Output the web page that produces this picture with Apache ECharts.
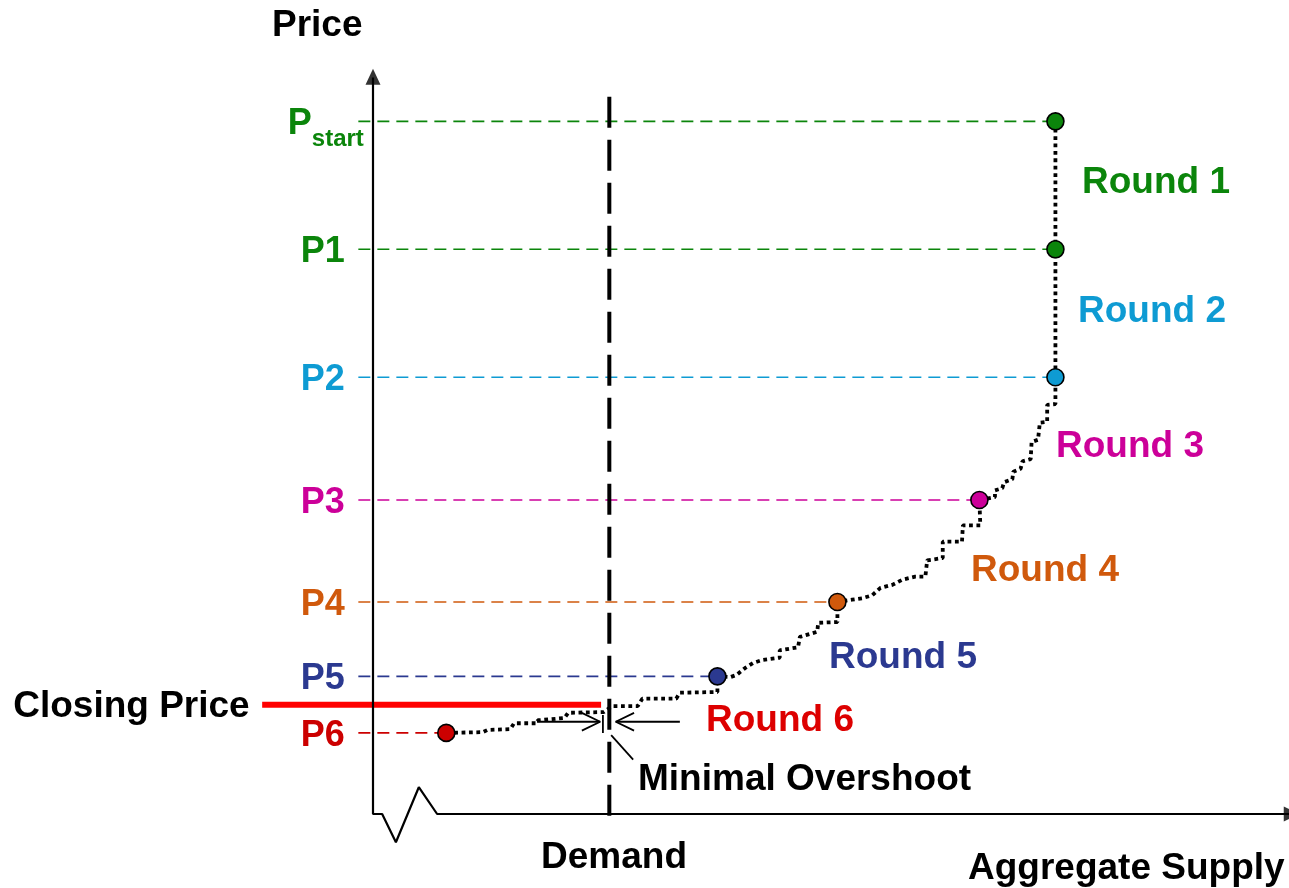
<!DOCTYPE html>
<html>
<head>
<meta charset="utf-8">
<style>
  html, body { margin: 0; padding: 0; background: #fff; }
  #chart { width: 1289px; height: 888px; }
</style>
<script src="https://cdn.jsdelivr.net/npm/echarts@6/dist/echarts.min.js"></script>
</head>
<body>
<div id="chart"></div>
<script>
// price levels of the auction rounds (x = aggregate supply, y = price)
const levelNames = ["Pstart", "P1", "P2", "P3", "P4", "P5", "P6"];
const levelPrices = [93.1, 75.9, 58.7, 42.2, 28.5, 18.5, 10.9];
const levelSupply = [74.5, 74.5, 74.5, 66.2, 50.7, 37.6, 8.0];
const roundNames = ["Round 1", "Round 2", "Round 3", "Round 4", "Round 5", "Round 6"];

// aggregate supply step curve, from Pstart down to P6
const supplyCurve = [
  [74.5, 93.1], [74.5, 75.9], [74.5, 58.7],
  [74.5, 55.1], [73.6, 55.0], [73.6, 52.7], [72.8, 52.6], [72.6, 50.3], [71.9, 50.0],
  [71.8, 47.7], [70.9, 47.4], [70.7, 46.4], [69.9, 46.0], [69.8, 45.0], [68.9, 44.6],
  [68.7, 43.8], [67.9, 43.5], [67.9, 42.6], [66.2, 42.2],
  [66.3, 38.8], [64.4, 38.8], [64.3, 36.6], [62.2, 36.6], [62.2, 34.4], [60.5, 34.1],
  [60.3, 31.9], [59.2, 31.9], [57.8, 31.5], [56.7, 30.8], [55.4, 30.4], [54.5, 29.4],
  [53.4, 29.0], [52.3, 28.8], [50.7, 28.5],
  [50.7, 25.8], [48.6, 25.7], [48.5, 24.5], [46.6, 23.8], [46.4, 22.4], [44.4, 22.0],
  [44.4, 21.0], [42.5, 20.7], [41.5, 20.3], [40.6, 19.6], [39.7, 18.7], [39.0, 18.4], [37.6, 18.5],
  [37.6, 16.4], [33.5, 16.3], [33.1, 15.5], [29.4, 15.5], [28.9, 14.5], [26.1, 14.5],
  [25.2, 13.7], [21.3, 13.6], [20.9, 12.9], [18.0, 12.6], [17.9, 12.2], [15.4, 12.2],
  [15.0, 11.4], [12.5, 11.3], [12.0, 11.0], [8.0, 10.9]
];

const demandSupply = 25.8;
const demandSpan = [96.4, -1.1];
const closingPrice = 14.7;
const closingSpan = [-12.1, 24.9];
const levelLineStart = -1.6;

// axis frame with the break on the supply axis
const axisFrame = [[0, 99], [0, 0], [1.0, 0], [2.5, -3.8], [5.0, 3.6], [7.0, 0], [100.3, 0]];
const axisArrows = [[0, 99.1], [100.3, 0]];

// "minimal overshoot" marks
const overshootMarks = [
  [[17.9, 12.4], [24.8, 12.4]],
  [[22.8, 13.6], [24.8, 12.4], [22.8, 11.2]],
  [[33.5, 12.4], [26.5, 12.4]],
  [[28.5, 13.6], [26.5, 12.4], [28.5, 11.2]],
  [[25.1, 13.3], [25.1, 10.9]],
  [[26.0, 10.6], [28.4, 7.3]]
];

const levelColors = ["#0b850b", "#0b850b", "#0e9bd3", "#cc0099", "#d0590c", "#2b3990", "#cc0000"];
const roundColors = ["#0b850b", "#0e9bd3", "#cc0099", "#d0590c", "#2b3990", "#dd0000"];
const roundLabelPos = [[1082, 183], [1078, 312], [1056, 447], [971, 571], [829, 658], [706, 721]];

const FONT = '"Liberation Sans", Arial, sans-serif';
const bold37 = "bold 37px " + FONT;

const chart = echarts.init(document.getElementById("chart"));

const hidden = { color: "transparent", borderColor: "transparent", borderWidth: 0 };

const levelSeries = levelNames.map((name, i) => ({
  type: "line",
  clip: false,
  silent: true,
  z: 2,
  symbol: "circle",
  symbolSize: 1,
  itemStyle: hidden,
  lineStyle: { color: levelColors[i], width: 1.6, type: [12, 7] },
  data: [
    {
      value: [levelLineStart, levelPrices[i]],
      label: i === 0 ? {
        show: true,
        position: "left",
        distance: 0,
        offset: [6, 3],
        formatter: "{p|P}{s|start}",
        rich: {
          p: { fontSize: 36, fontWeight: "bold", fontFamily: FONT, color: levelColors[i], lineHeight: 36, verticalAlign: "top" },
          s: { fontSize: 24, fontWeight: "bold", fontFamily: FONT, color: levelColors[i], lineHeight: 24, padding: [21, 0, 0, 0], verticalAlign: "top" }
        }
      } : {
        show: true,
        position: "left",
        distance: 13,
        offset: [0, 3],
        formatter: name,
        color: levelColors[i],
        fontSize: 36,
        fontWeight: "bold",
        fontFamily: FONT
      }
    },
    { value: [levelSupply[i], levelPrices[i]], symbol: "none" }
  ]
}));

const overshootSeries = overshootMarks.map(seg => ({
  type: "line",
  clip: false,
  silent: true,
  symbol: "none",
  z: 4,
  lineStyle: { color: "#000", width: 1.8 },
  data: seg
}));

const option = {
  animation: false,
  backgroundColor: "#fff",
  grid: { left: 235.6, top: 70, right: 0, bottom: 74 },
  xAxis: { type: "value", min: -15, max: 100, show: false },
  yAxis: { type: "value", min: 0, max: 100, show: false },
  series: [
    {
      type: "line",
      clip: false,
      silent: true,
      symbol: "none",
      z: 3,
      lineStyle: { color: "#000", width: 2.2 },
      data: axisFrame
    },
    {
      type: "scatter",
      clip: false,
      silent: true,
      symbol: "triangle",
      symbolSize: [15, 16],
      itemStyle: { color: "#000" },
      data: axisArrows.map((p, i) => ({ value: p, symbolRotate: i === 0 ? 0 : -90 }))
    },
    ...levelSeries,
    {
      type: "line",
      clip: false,
      silent: true,
      z: 2,
      symbol: "circle",
      symbolSize: 1,
      itemStyle: hidden,
      lineStyle: { color: "#ff0000", width: 6 },
      data: [
        {
          value: [closingSpan[0], closingPrice],
          label: {
            show: true,
            position: "left",
            distance: 12,
            offset: [0, 2],
            formatter: "Closing Price",
            color: "#000",
            fontSize: 37,
            fontWeight: "bold",
            fontFamily: FONT
          }
        },
        { value: [closingSpan[1], closingPrice], symbol: "none" }
      ]
    },
    {
      type: "line",
      clip: false,
      silent: true,
      symbol: "none",
      z: 3,
      lineStyle: { color: "#000", width: 4, type: [31, 12] },
      data: [[demandSupply, demandSpan[0]], [demandSupply, demandSpan[1]]]
    },
    {
      type: "line",
      clip: false,
      silent: true,
      symbol: "none",
      z: 4,
      lineStyle: { color: "#000", width: 3.8, type: [3.8, 3.6] },
      data: supplyCurve
    },
    ...overshootSeries,
    {
      type: "scatter",
      clip: false,
      silent: true,
      z: 10,
      symbol: "circle",
      symbolSize: 17,
      itemStyle: { borderColor: "#000", borderWidth: 1.6, opacity: 1 },
      data: levelSupply.map((q, i) => ({ value: [q, levelPrices[i]], itemStyle: { color: levelColors[i] } }))
    }
  ],
  graphic: [
    { type: "text", x: 272, y: 26, style: { text: "Price", font: bold37, fill: "#000", align: "left", verticalAlign: "middle" } },
    { type: "text", x: 614, y: 858, style: { text: "Demand", font: bold37, fill: "#000", align: "center", verticalAlign: "middle" } },
    { type: "text", x: 968, y: 869, style: { text: "Aggregate Supply", font: bold37, fill: "#000", align: "left", verticalAlign: "middle" } },
    { type: "text", x: 638, y: 780, style: { text: "Minimal Overshoot", font: bold37, fill: "#000", align: "left", verticalAlign: "middle" } },
    ...roundNames.map((r, i) => ({
      type: "text",
      x: roundLabelPos[i][0],
      y: roundLabelPos[i][1],
      style: { text: r, font: bold37, fill: roundColors[i], align: "left", verticalAlign: "middle" }
    }))
  ]
};

chart.setOption(option);
window.addEventListener("resize", () => chart.resize());
</script>
</body>
</html>
